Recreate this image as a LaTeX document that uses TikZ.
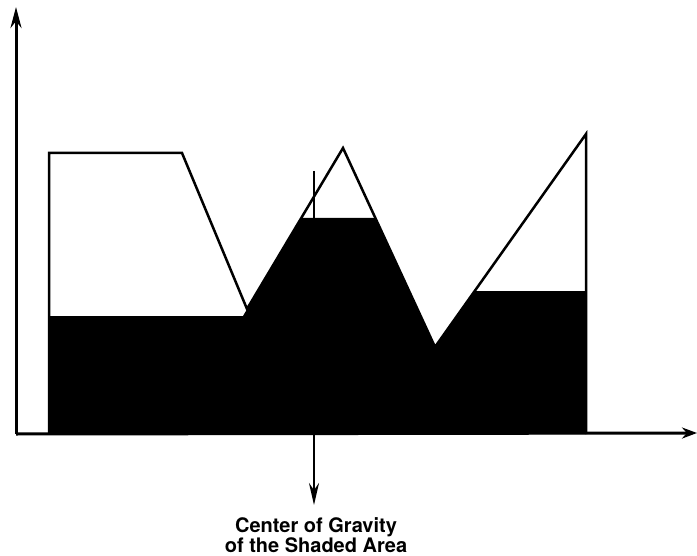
\documentclass[tikz,border=0pt]{standalone}
\usepackage{fontspec}
\setmainfont{TeX Gyre Heros}
\usetikzlibrary{arrows.meta}
\begin{document}
\begin{tikzpicture}[x=1bp,y=-1bp,>={Stealth[length=21bp,width=11bp]},line width=2.5bp,line join=miter]
  \useasboundingbox (0,0) rectangle (697,556);
  \coordinate (O) at (16,434);
  \coordinate (Y) at (16,7);
  \coordinate (X) at (697,433);

  % 外轮廓顶点
  \coordinate (A0) at (49,434);
  \coordinate (A1) at (49,153);
  \coordinate (A2) at (182,153);
  \coordinate (A3) at (247,309);
  \coordinate (A4) at (343,148);
  \coordinate (A5) at (435,347);
  \coordinate (A6) at (586,134);
  \coordinate (A7) at (586,434);

  % 阴影区顶点
  \coordinate (S1) at (49,316);
  \coordinate (S2) at (243,316);
  \coordinate (S3) at (301,218);
  \coordinate (S4) at (375,218);
  \coordinate (S5) at (474,291);
  \coordinate (S6) at (586,291);

  % 重心
  \coordinate (G) at (314,171);
  \coordinate (G1) at (314,505);

  % 外轮廓与阴影
  \draw (A0) -- (A1) -- (A2) -- (A3) -- (A4) -- (A5) -- (A6) -- (A7);
  \fill (S1) -- (S2) -- (S3) -- (S4) -- (A5) -- (S5) -- (S6) -- (A7) -- (A0) -- cycle;

  % 坐标轴
  \draw[->,line width=3bp] (O) -- (Y);
  \draw[-{Stealth[length=15bp,width=11bp]},line width=3bp] (O) -- (X);

  % 重心标注
  \draw[-{Stealth[length=22bp,width=10bp]}] (G) -- (G1);
  \node[anchor=north,inner sep=0pt,align=center,
        font=\fontsize{20bp}{20bp}\selectfont\bfseries] (cg) at (316,516)
        {Center of Gravity\\of the Shaded Area};
\end{tikzpicture}
\end{document}
